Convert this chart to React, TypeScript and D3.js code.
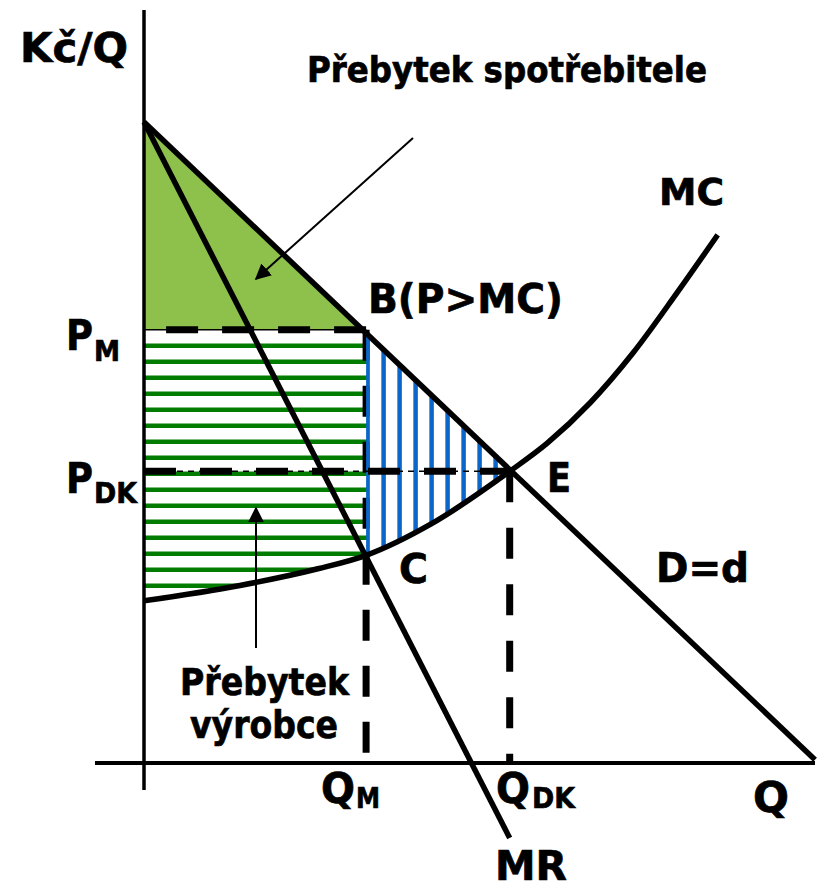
import React from "react";
import * as d3 from "d3";

// ---- data (economic units) ----
const demandQ = [0, 100];
const demandP = [100, 0.5];
const mrQ = [0, 54.5];
const mrP = [100, -11.7];
const mcQ = [0, 14.3, 25.9, 33.1, 42.8, 54.5, 60.1, 66.5, 72.9, 79.4, 85.5];
const mcP = [25.3, 27.7, 30.3, 32.4, 37.3, 45.5, 49.9, 56.2, 64.0, 73.3, 82.4];
const qM = 33.1;
const pM = 67.6;
const qDK = 54.5;
const pDK = 45.5;

const W = 821;
const H = 890;
const FONT = "'DejaVu Sans', Verdana, sans-serif";

type TProps = { x: number; y: number; size: number; w: number; children: React.ReactNode };
const T = ({ x, y, size, w, children }: TProps) => (
  <text
    x={x}
    y={y}
    fontSize={size}
    fontWeight="bold"
    fontFamily={FONT}
    fill="#000"
    stroke="#000"
    strokeWidth={0.7}
    textLength={w}
    lengthAdjust="spacingAndGlyphs"
  >
    {children}
  </text>
);

export default function App() {
  const x = d3.scaleLinear().domain([0, 100]).range([144, 815]);
  const y = d3.scaleLinear().domain([0, 100]).range([763, 122]);

  const mcPts: [number, number][] = mcQ.map((q, i) => [q, mcP[i]]);
  const dPts: [number, number][] = demandQ.map((q, i) => [q, demandP[i]]);
  const mrPts: [number, number][] = mrQ.map((q, i) => [q, mrP[i]]);

  const line = d3
    .line<[number, number]>()
    .x((d) => x(d[0]))
    .y((d) => y(d[1]));
  const mcLine = d3
    .line<[number, number]>()
    .x((d) => x(d[0]))
    .y((d) => y(d[1]))
    .curve(d3.curveMonotoneX);
  const aboveMC = d3
    .area<[number, number]>()
    .x((d) => x(d[0]))
    .y0(0)
    .y1((d) => y(d[1]))
    .curve(d3.curveMonotoneX);

  const dSlope = (demandP[1] - demandP[0]) / (demandQ[1] - demandQ[0]);
  const qB = (pM - demandP[0]) / dSlope;

  const belowDemand = `M${x(demandQ[0])},${y(demandP[0])}L${x(demandQ[1])},${y(demandP[1])}L${x(demandQ[1])},${H}L${x(demandQ[0])},${H}Z`;

  const tri = `M${x(0)},${y(demandP[0])}L${x(qB)},${y(pM)}L${x(0)},${y(pM)}Z`;

  const greenYs = d3.range(y(pM) + 16, y(mcP[0]), 16);
  const blueXs = d3.range(x(qM) + 1.5, x(qDK), 16);

  return (
    <svg
      width={W}
      height={H}
      style={{ position: "absolute", left: 0, top: 0, background: "#fff" }}
    >
      <defs>
        <clipPath id="greenRect">
          <rect x={x(0)} y={y(pM)} width={x(qM) - x(0) + 2} height={y(0) - y(pM)} />
        </clipPath>
        <clipPath id="aboveMC">
          <path d={aboveMC(mcPts) || ""} />
        </clipPath>
        <clipPath id="blueRect">
          <rect x={x(qM)} y={0} width={x(qDK) - x(qM)} height={H} />
        </clipPath>
        <clipPath id="belowD">
          <path d={belowDemand} />
        </clipPath>
        <marker
          id="arrow"
          viewBox="0 0 10 10"
          refX="9"
          refY="5"
          markerWidth="8"
          markerHeight="8"
          orient="auto"
          markerUnits="strokeWidth"
        >
          <path d="M0,0L10,5L0,10Z" fill="#000" />
        </marker>
      </defs>

      {/* consumer surplus triangle */}
      <path d={tri} fill="#8DC14B" />

      {/* producer surplus stripes */}
      <g clipPath="url(#greenRect)">
        <g clipPath="url(#aboveMC)">
          {greenYs.map((gy, i) => (
            <line key={i} x1={x(0)} x2={x(qM) + 4} y1={gy} y2={gy} stroke="#007D00" strokeWidth={4.5} />
          ))}
        </g>
      </g>

      {/* QM vertical dashed */}
      <line x1={x(qM)} x2={x(qM)} y1={y(pM)} y2={y(0)} stroke="#000" strokeWidth={7} strokeDasharray="31 25" />

      {/* deadweight loss stripes */}
      <g clipPath="url(#blueRect)">
        <g clipPath="url(#aboveMC)">
          <g clipPath="url(#belowD)">
            {blueXs.map((bx, i) => (
              <line key={i} x1={bx} x2={bx} y1={0} y2={H} stroke="#0A66C8" strokeWidth={4.5} />
            ))}
          </g>
        </g>
      </g>

      {/* PM horizontal */}
      <line x1={x(0)} x2={x(qM)} y1={y(pM)} y2={y(pM)} stroke="#000" strokeWidth={1.5} />
      <line x1={x(qM)} x2={x(0)} y1={y(pM)} y2={y(pM)} stroke="#000" strokeWidth={7} strokeDasharray="32 24" />
      {/* PDK horizontal */}
      <line x1={x(0)} x2={x(qDK)} y1={y(pDK)} y2={y(pDK)} stroke="#000" strokeWidth={1.5} strokeDasharray="6 5" />
      <line x1={x(0)} x2={x(qDK)} y1={y(pDK)} y2={y(pDK)} stroke="#000" strokeWidth={7} strokeDasharray="32 24" />
      {/* QDK vertical */}
      <line x1={x(qDK)} x2={x(qDK)} y1={y(pDK)} y2={y(0)} stroke="#000" strokeWidth={7} strokeDasharray="31 25.5" />

      {/* curves */}
      <path d={line(dPts) || ""} fill="none" stroke="#000" strokeWidth={5.5} />
      <path d={line(mrPts) || ""} fill="none" stroke="#000" strokeWidth={5.5} />
      <path d={mcLine(mcPts) || ""} fill="none" stroke="#000" strokeWidth={5.5} />

      {/* axes */}
      <line x1={x(0)} x2={x(0)} y1={10} y2={790} stroke="#000" strokeWidth={3.5} />
      <line x1={95} x2={x(100)} y1={y(0)} y2={y(0)} stroke="#000" strokeWidth={4} />

      {/* arrows */}
      <line x1={413} y1={138} x2={256} y2={279} stroke="#000" strokeWidth={2} markerEnd="url(#arrow)" />
      <line x1={256} y1={648} x2={256} y2={508} stroke="#000" strokeWidth={2} markerEnd="url(#arrow)" />

      {/* labels */}
      <T x={20} y={62} size={40} w={108}>Kč/Q</T>
      <T x={307} y={82} size={35} w={400}>Přebytek spotřebitele</T>
      <T x={368} y={313} size={40} w={195}>B(P&gt;MC)</T>
      <T x={659} y={205} size={38} w={65}>MC</T>
      <T x={547} y={492} size={40} w={24}>E</T>
      <T x={399} y={583} size={40} w={29}>C</T>
      <T x={656} y={582} size={40} w={93}>D=d</T>

      <T x={66} y={350} size={43} w={27}>P</T>
      <T x={94} y={361} size={29} w={26}>M</T>
      <T x={66} y={493} size={43} w={27}>P</T>
      <T x={94} y={503} size={29} w={43}>DK</T>

      <T x={321} y={803} size={42} w={34}>Q</T>
      <T x={356} y={808} size={29} w={24}>M</T>
      <T x={496} y={803} size={42} w={34}>Q</T>
      <T x={532} y={808} size={29} w={43}>DK</T>
      <T x={753} y={812} size={42} w={36}>Q</T>
      <T x={495} y={880} size={40} w={72}>MR</T>

      <T x={180} y={695} size={37} w={169}>Přebytek</T>
      <T x={190} y={738} size={37} w={148}>výrobce</T>
    </svg>
  );
}
